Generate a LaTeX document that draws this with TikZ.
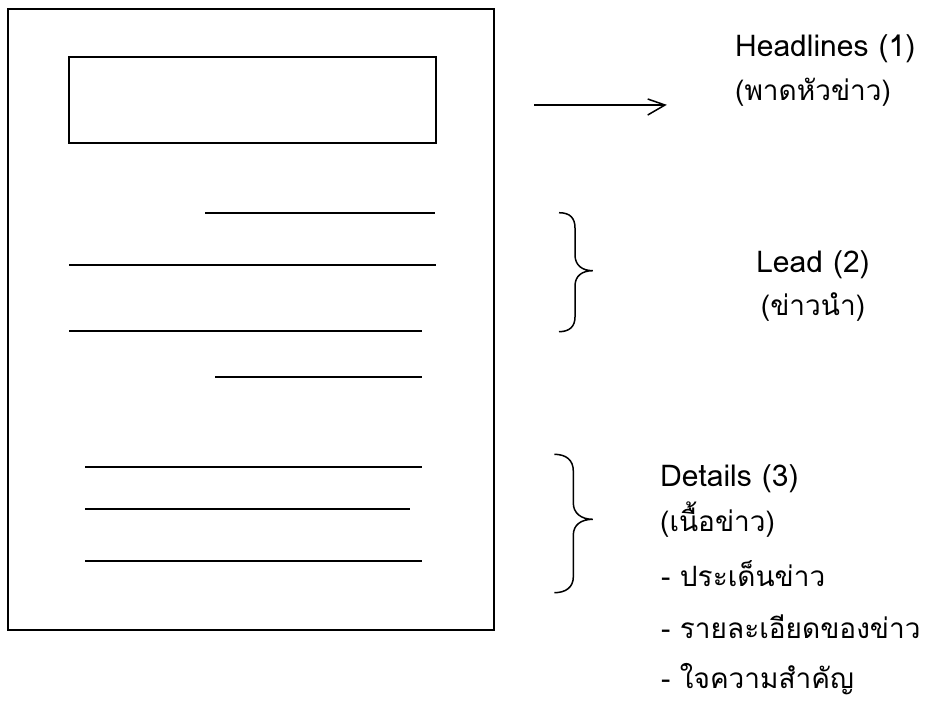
\documentclass[tikz,border=0pt]{standalone}
\usepackage{fontspec}
\setmainfont{Loma}[Script=Thai]
\begin{document}
\begin{tikzpicture}[x=1pt,y=-1pt,
  frame/.style={draw=black,line width=2pt},
  textline/.style={draw=black,line width=2.2pt},
  thin/.style={draw=black,line width=1.5pt},
  lbl/.style={inner sep=0pt,font=\fontsize{30}{36}\selectfont},
  thlbl/.style={inner sep=0pt,font=\fontsize{28}{34}\selectfont}]
\useasboundingbox (0,0) rectangle (934,715);
% page
\draw[frame] (8,9) rectangle (494,630);
% headline box
\draw[frame] (69,57) rectangle (436,143);
% text lines
\draw[textline] (205,212.7) -- (435,212.7);
\draw[textline] (69,264.7) -- (436,264.7);
\draw[textline] (69,331) -- (422,331);
\draw[textline] (215,376.7) -- (422,376.7);
\draw[textline] (85,467.3) -- (422,467.3);
\draw[textline] (85,509) -- (410,509);
\draw[textline] (85,560.7) -- (422,560.7);
% arrow
\coordinate (as) at (534,105);
\coordinate (ae) at (665,105);
\draw[thin] (as) -- (ae);
\draw[thin,line join=miter] (647.7,99) -- (ae) -- (647.7,115);
% brace 1
\draw[thin] (559,212.7) .. controls (570,212.7) and (575,218) .. (575,228)
  -- (575,255) .. controls (575,265) and (582,270.7) .. (592.7,270.7)
  .. controls (582,270.7) and (575,276) .. (575,286)
  -- (575,317) .. controls (575,326) and (570,331.7) .. (559,331.7);
% brace 2
\draw[thin] (554.3,454.3) .. controls (566,454.3) and (573.3,460) .. (573.3,471)
  -- (573.3,503) .. controls (573.3,513) and (581,519.3) .. (592.7,519.3)
  .. controls (581,519.3) and (573.3,525) .. (573.3,535)
  -- (573.3,577) .. controls (573.3,587) and (566,592.7) .. (554.3,592.7);
% labels
\node[lbl,anchor=base west] (h1) at (735,56.7) {Headlines (1)};
\node[thlbl,anchor=base west] (h2) at (735,100) {(พาดหัวข่าว)};
\node[lbl,anchor=base] (l1) at (813,272.3) {Lead (2)};
\node[thlbl,anchor=base] (l2) at (813,315) {(ข่าวนำ)};
\node[lbl,anchor=base west] (d1) at (660,486.7) {Details (3)};
\node[thlbl,anchor=base west] (d2) at (660,531.7) {(เนื้อข่าว)};
\node[thlbl,anchor=base west] (d3) at (661,586.7) {- ประเด็นข่าว};
\node[thlbl,anchor=base west] (d4) at (661,638) {- รายละเอียดของข่าว};
\node[thlbl,anchor=base west] (d5) at (661,688) {- ใจความสำคัญ};
\end{tikzpicture}
\end{document}
